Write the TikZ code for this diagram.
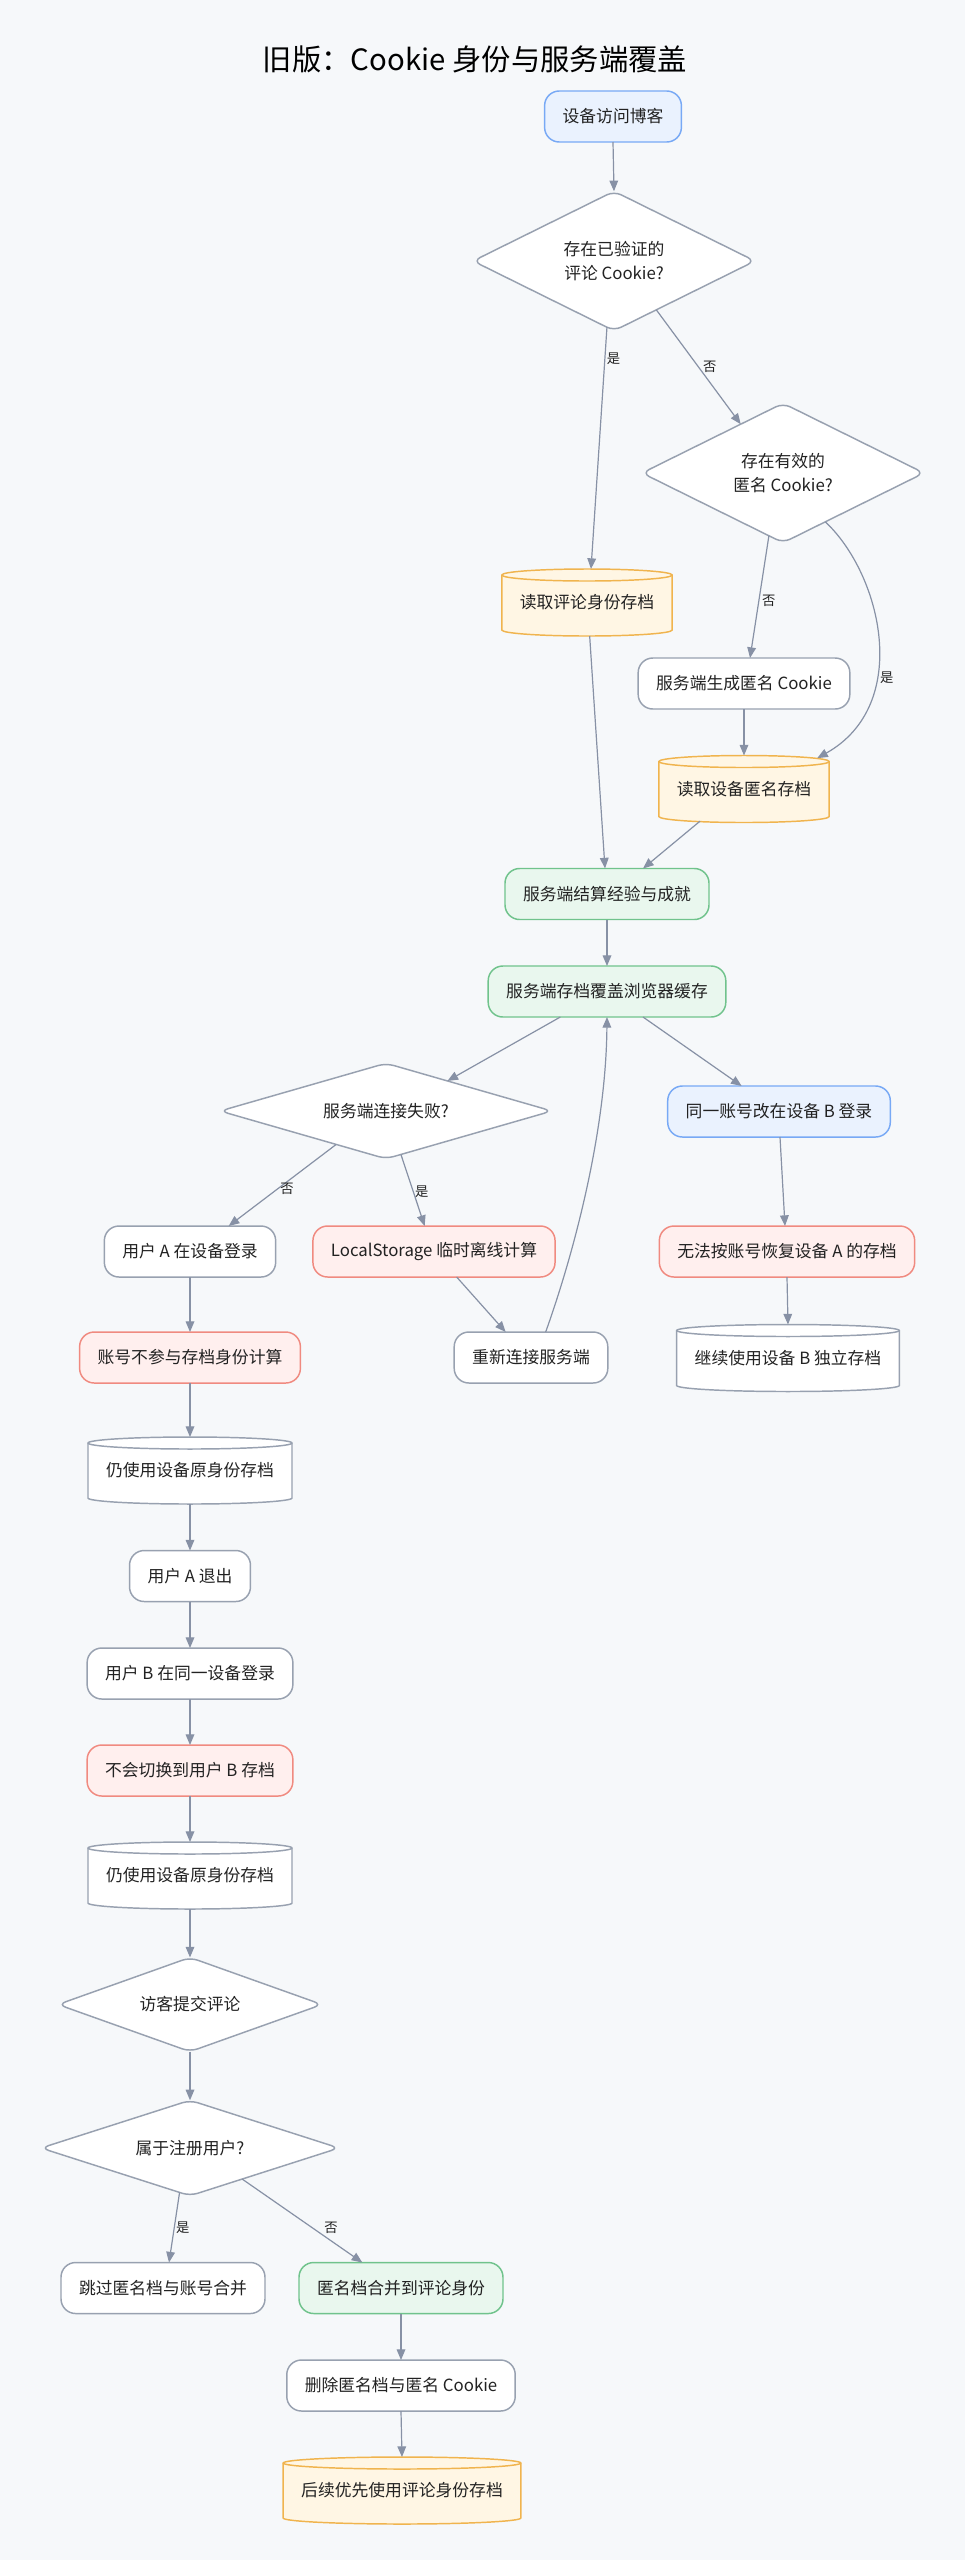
\documentclass[tikz,border=0pt]{standalone}
\usepackage{fontspec}
\setmainfont{Noto Sans CJK SC}
\usetikzlibrary{shapes.geometric,arrows.meta,calc}
\definecolor{bgC}{HTML}{F6F8FA}
\definecolor{txtC}{HTML}{222222}
\definecolor{edgeC}{HTML}{8791A5}
\definecolor{grayB}{HTML}{98A1B0}
\definecolor{blueB}{HTML}{78A9F5}
\definecolor{blueF}{HTML}{EAF2FE}
\definecolor{greenB}{HTML}{70C38C}
\definecolor{greenF}{HTML}{E9F7EE}
\definecolor{redB}{HTML}{F08A80}
\definecolor{redF}{HTML}{FFEFEE}
\definecolor{orangeB}{HTML}{F0B44E}
\definecolor{orangeF}{HTML}{FFF6E4}
\pgfdeclarelayer{back}
\pgfdeclarelayer{mid}
\pgfsetlayers{back,mid,main}
\newcommand\cylfill[3]{%
\begin{pgfonlayer}{mid}
\filldraw[draw=#2, fill=#3, line width=1.1pt] let \p1=(#1.north west), \p2=(#1.south east) in
 (\x1,\y1-4.5pt) -- (\x1,\y2+4.5pt)
 arc[start angle=180, end angle=360, x radius={(\x2-\x1)/2}, y radius=4.5pt]
 -- (\x2,\y1-4.5pt)
 arc[start angle=0, end angle=180, x radius={(\x2-\x1)/2}, y radius=4.5pt] -- cycle;
\draw[draw=#2, line width=1.1pt] let \p1=(#1.north west), \p2=(#1.south east) in
 (\x1,\y1-4.5pt) arc[start angle=180, end angle=360, x radius={(\x2-\x1)/2}, y radius=4.5pt];
\end{pgfonlayer}}
\tikzset{
 base/.style={font=\fontsize{12.6}{18}\selectfont, text=txtC, line width=1.1pt,
   inner xsep=13.5pt, inner ysep=0pt, minimum height=38.25pt, rounded corners=11pt,
   align=center, outer sep=0pt},
 plainbox/.style={base, draw=grayB, fill=white},
 bluebox/.style={base, draw=blueB, fill=blueF},
 greenbox/.style={base, draw=greenB, fill=greenF},
 redbox/.style={base, draw=redB, fill=redF},
 cylnode/.style={font=\fontsize{12.6}{18}\selectfont, text=txtC, inner xsep=13.5pt,
   inner ysep=0pt, minimum height=50.25pt, align=center, outer sep=0pt},
 dia/.style={diamond, shape aspect=2, draw=grayB, fill=white, line width=1.1pt,
   rounded corners=6pt, inner sep=0pt, outer sep=0pt, align=center,
   font=\fontsize{12.6}{18}\selectfont, text=txtC},
 edge/.style={draw=edgeC, line width=0.9pt, -{Triangle[length=8pt,width=6.5pt]}},
 lbl/.style={font=\fontsize{10}{12}\selectfont, text=txtC, inner sep=1pt}
}
\begin{document}
\begin{tikzpicture}[x=0.75pt, y=-0.75pt]
\begin{pgfonlayer}{back}
\fill[bgC] (0,0) rectangle (965,2560);
\end{pgfonlayer}
\useasboundingbox (0,0) rectangle (965,2560);

\node[font=\fontsize{22}{27}\selectfont, text=black] (title) at (475,59) {旧版：Cookie 身份与服务端覆盖};

\node[bluebox] (start) at (613,116.5) {设备访问博客};
\node[dia, minimum width=211.5pt, minimum height=104.6pt] (D1) at (614,261) {存在已验证的\\评论 Cookie?};
\node[dia, minimum width=211.5pt, minimum height=104.6pt] (D2) at (783,473) {存在有效的\\匿名 Cookie?};
\node[cylnode] (c1) at (587,602.5) {读取评论身份存档};
\cylfill{c1}{orangeB}{orangeF}
\node[plainbox] (gen) at (744,683.5) {服务端生成匿名 Cookie};
\node[cylnode] (c2) at (744,789) {读取设备匿名存档};
\cylfill{c2}{orangeB}{orangeF}
\node[greenbox] (settle) at (607,894) {服务端结算经验与成就};
\node[greenbox] (store) at (607,991.5) {服务端存档覆盖浏览器缓存};
\node[dia, minimum width=249pt, minimum height=71.6pt] (D3) at (386,1111) {服务端连接失败?};
\node[bluebox] (sameB) at (779,1111.5) {同一账号改在设备 B 登录};
\node[plainbox] (userA) at (190,1251.5) {用户 A 在设备登录};
\node[redbox] (local) at (434,1251.5) {LocalStorage 临时离线计算};
\node[redbox] (norec) at (787,1251.5) {无法按账号恢复设备 A 的存档};
\node[redbox] (acct) at (190,1357.5) {账号不参与存档身份计算};
\node[plainbox] (recon) at (531,1357.5) {重新连接服务端};
\node[cylnode] (cB) at (788,1358) {继续使用设备 B 独立存档};
\cylfill{cB}{grayB}{white}
\node[cylnode] (c3) at (190,1470.5) {仍使用设备原身份存档};
\cylfill{c3}{grayB}{white}
\node[plainbox] (logoutA) at (190,1576) {用户 A 退出};
\node[plainbox] (userB) at (190,1673.5) {用户 B 在同一设备登录};
\node[redbox] (noswitch) at (190,1770.5) {不会切换到用户 B 存档};
\node[cylnode] (c4) at (190,1875.5) {仍使用设备原身份存档};
\cylfill{c4}{grayB}{white}
\node[dia, minimum width=198pt, minimum height=70.6pt] (D4) at (190,2004.5) {访客提交评论};
\node[dia, minimum width=223.5pt, minimum height=71.6pt] (D5) at (190,2148) {属于注册用户?};
\node[plainbox] (skip) at (163,2288) {跳过匿名档与账号合并};
\node[greenbox] (merge) at (401,2288) {匿名档合并到评论身份};
\node[plainbox] (del) at (401,2385.5) {删除匿名档与匿名 Cookie};
\node[cylnode] (c5) at (402,2490.5) {后续优先使用评论身份存档};
\cylfill{c5}{orangeB}{orangeF}

\draw[edge] (start.south) -- (D1.north);
\draw[edge] ($(D1.south)!0.05!(D1.west)$) -- node[lbl,pos=0.13,right=0pt]{是} ([xshift=3pt]c1.north);
\draw[edge] ($(D1.south)!0.3!(D1.east)$) -- node[lbl,pos=0.5,right=2pt]{否} ($(D2.north)!0.3!(D2.west)$);
\draw[edge] ($(D2.south)!0.1!(D2.west)$) -- node[lbl,pos=0.53,right=1pt]{否} ([xshift=4.5pt]gen.north);
\draw[edge] ($(D2.south)!0.3!(D2.east)$) .. controls (882,575) and (912,705) .. node[lbl,pos=0.64,right=2pt]{是} ([xshift=-9pt,yshift=-2pt]c2.north east);
\draw[edge] (gen.south) -- (c2.north);
\draw[edge] ([xshift=2pt]c1.south) -- ([xshift=-1.5pt]settle.north);
\draw[edge] ([xshift=-33pt,yshift=1pt]c2.south) -- ([xshift=27pt]settle.north);
\draw[edge] (settle.south) -- (store.north);
\draw[edge] ([xshift=-35pt]store.south) -- ($(D3.north)!0.37!(D3.east)$);
\draw[edge] ([xshift=27pt]store.south) -- ([xshift=-28pt]sameB.north);
\draw[edge] ($(D3.south)!0.3!(D3.west)$) -- node[lbl,pos=0.55,right=1pt]{否} ([xshift=29pt]userA.north);
\draw[edge] ($(D3.south)!0.09!(D3.east)$) -- node[lbl,pos=0.52,right=0pt]{是} ([xshift=-7pt]local.north);
\draw[edge] ([xshift=17pt]local.south) -- ([xshift=-19pt]recon.north);
\draw[edge] ([xshift=11pt]recon.north) .. controls (575,1250) and (606,1130) .. (store.south);
\draw[edge] ([xshift=0.75pt]sameB.south) -- ([xshift=-1.5pt]norec.north);
\draw[edge] (norec.south) -- (cB.north);
\draw[edge] (userA.south) -- (acct.north);
\draw[edge] (acct.south) -- (c3.north);
\draw[edge] (c3.south) -- (logoutA.north);
\draw[edge] (logoutA.south) -- (userB.north);
\draw[edge] (userB.south) -- (noswitch.north);
\draw[edge] (noswitch.south) -- (c4.north);
\draw[edge] (c4.south) -- (D4.north);
\draw[edge] (D4.south) -- (D5.north);
\draw[edge] ($(D5.south)!0.07!(D5.west)$) -- node[lbl,pos=0.5,right=0pt]{是} ([xshift=4.5pt]skip.north);
\draw[edge] ($(D5.south)!0.35!(D5.east)$) -- node[lbl,pos=0.59,right=7pt]{否} ([xshift=-29pt]merge.north);
\draw[edge] (merge.south) -- (del.north);
\draw[edge] (del.south) -- (c5.north);
\end{tikzpicture}
\end{document}
